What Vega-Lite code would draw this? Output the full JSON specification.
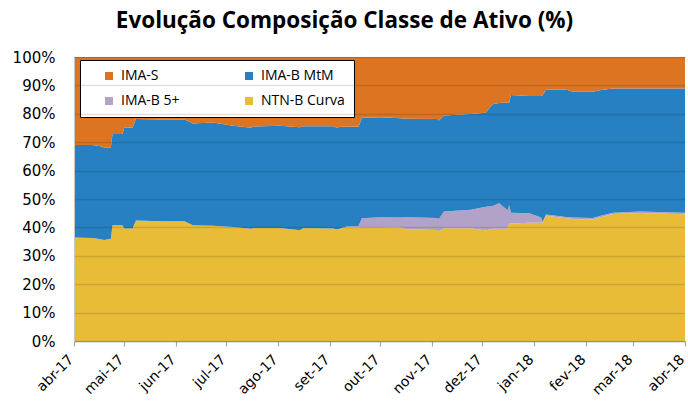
{
  "$schema": "https://vega.github.io/schema/vega-lite/v6.json",
  "width": 611,
  "height": 284,
  "autosize": "none",
  "padding": {"left": 74, "top": 57, "right": 3, "bottom": 60},
  "background": "white",
  "title": {"text": "Evolução Composição Classe de Ativo (%)", "font": "Open Sans", "fontSize": 22.5, "fontWeight": "bold", "color": "#000000", "anchor": "middle", "dx": -35, "offset": 18},
  "config": {"view": {"stroke": null}},
  "data": {"values": [
    {"data": "2017-04-01", "lim_ntnb": 36.4, "lim_ima5": 36.4, "lim_mtm": 69.0},
    {"data": "2017-04-12", "lim_ntnb": 36.3, "lim_ima5": 36.3, "lim_mtm": 69.0},
    {"data": "2017-04-17", "lim_ntnb": 35.8, "lim_ima5": 35.8, "lim_mtm": 68.6},
    {"data": "2017-04-19", "lim_ntnb": 35.6, "lim_ima5": 35.6, "lim_mtm": 68.1},
    {"data": "2017-04-23", "lim_ntnb": 36.0, "lim_ima5": 36.0, "lim_mtm": 68.1},
    {"data": "2017-04-24", "lim_ntnb": 40.8, "lim_ima5": 40.8, "lim_mtm": 72.9},
    {"data": "2017-04-30", "lim_ntnb": 40.8, "lim_ima5": 40.8, "lim_mtm": 72.9},
    {"data": "2017-05-01", "lim_ntnb": 39.6, "lim_ima5": 39.6, "lim_mtm": 75.2},
    {"data": "2017-05-06", "lim_ntnb": 39.6, "lim_ima5": 39.6, "lim_mtm": 75.2},
    {"data": "2017-05-08", "lim_ntnb": 42.4, "lim_ima5": 42.4, "lim_mtm": 78.2},
    {"data": "2017-05-23", "lim_ntnb": 42.2, "lim_ima5": 42.2, "lim_mtm": 78.0},
    {"data": "2017-06-06", "lim_ntnb": 42.2, "lim_ima5": 42.2, "lim_mtm": 78.0},
    {"data": "2017-06-11", "lim_ntnb": 40.8, "lim_ima5": 40.8, "lim_mtm": 76.6},
    {"data": "2017-06-23", "lim_ntnb": 40.6, "lim_ima5": 40.6, "lim_mtm": 76.9},
    {"data": "2017-07-05", "lim_ntnb": 40.1, "lim_ima5": 40.1, "lim_mtm": 75.8},
    {"data": "2017-07-16", "lim_ntnb": 39.5, "lim_ima5": 39.5, "lim_mtm": 75.1},
    {"data": "2017-07-17", "lim_ntnb": 39.8, "lim_ima5": 39.8, "lim_mtm": 75.5},
    {"data": "2017-08-02", "lim_ntnb": 39.8, "lim_ima5": 39.8, "lim_mtm": 75.8},
    {"data": "2017-08-14", "lim_ntnb": 39.0, "lim_ima5": 39.0, "lim_mtm": 75.3},
    {"data": "2017-08-16", "lim_ntnb": 39.8, "lim_ima5": 39.8, "lim_mtm": 75.6},
    {"data": "2017-09-03", "lim_ntnb": 39.6, "lim_ima5": 39.6, "lim_mtm": 75.6},
    {"data": "2017-09-05", "lim_ntnb": 39.3, "lim_ima5": 39.3, "lim_mtm": 75.1},
    {"data": "2017-09-07", "lim_ntnb": 39.6, "lim_ima5": 39.6, "lim_mtm": 75.4},
    {"data": "2017-09-11", "lim_ntnb": 40.0, "lim_ima5": 40.3, "lim_mtm": 75.4},
    {"data": "2017-09-18", "lim_ntnb": 40.0, "lim_ima5": 40.5, "lim_mtm": 75.4},
    {"data": "2017-09-20", "lim_ntnb": 40.1, "lim_ima5": 43.2, "lim_mtm": 78.6},
    {"data": "2017-10-01", "lim_ntnb": 40.1, "lim_ima5": 43.6, "lim_mtm": 78.8},
    {"data": "2017-10-13", "lim_ntnb": 40.0, "lim_ima5": 43.5, "lim_mtm": 78.4},
    {"data": "2017-10-17", "lim_ntnb": 39.3, "lim_ima5": 43.6, "lim_mtm": 78.3},
    {"data": "2017-11-04", "lim_ntnb": 39.1, "lim_ima5": 43.3, "lim_mtm": 78.2},
    {"data": "2017-11-05", "lim_ntnb": 38.6, "lim_ima5": 43.0, "lim_mtm": 77.6},
    {"data": "2017-11-08", "lim_ntnb": 39.7, "lim_ima5": 45.6, "lim_mtm": 79.4},
    {"data": "2017-11-24", "lim_ntnb": 39.7, "lim_ima5": 46.2, "lim_mtm": 79.9},
    {"data": "2017-12-03", "lim_ntnb": 38.9, "lim_ima5": 47.3, "lim_mtm": 80.4},
    {"data": "2017-12-07", "lim_ntnb": 39.5, "lim_ima5": 47.5, "lim_mtm": 83.4},
    {"data": "2017-12-11", "lim_ntnb": 39.5, "lim_ima5": 48.5, "lim_mtm": 83.8},
    {"data": "2017-12-16", "lim_ntnb": 39.5, "lim_ima5": 46.0, "lim_mtm": 84.0},
    {"data": "2017-12-17", "lim_ntnb": 41.4, "lim_ima5": 47.8, "lim_mtm": 84.0},
    {"data": "2017-12-18", "lim_ntnb": 41.4, "lim_ima5": 45.2, "lim_mtm": 86.6},
    {"data": "2017-12-29", "lim_ntnb": 41.6, "lim_ima5": 45.0, "lim_mtm": 86.3},
    {"data": "2018-01-05", "lim_ntnb": 41.6, "lim_ima5": 43.5, "lim_mtm": 86.3},
    {"data": "2018-01-06", "lim_ntnb": 41.8, "lim_ima5": 42.0, "lim_mtm": 86.5},
    {"data": "2018-01-08", "lim_ntnb": 44.1, "lim_ima5": 44.5, "lim_mtm": 88.6},
    {"data": "2018-01-20", "lim_ntnb": 43.2, "lim_ima5": 43.7, "lim_mtm": 88.6},
    {"data": "2018-01-24", "lim_ntnb": 43.0, "lim_ima5": 43.5, "lim_mtm": 87.8},
    {"data": "2018-02-05", "lim_ntnb": 42.8, "lim_ima5": 43.3, "lim_mtm": 87.8},
    {"data": "2018-02-09", "lim_ntnb": 43.5, "lim_ima5": 44.0, "lim_mtm": 88.3},
    {"data": "2018-02-17", "lim_ntnb": 44.7, "lim_ima5": 45.2, "lim_mtm": 88.9},
    {"data": "2018-03-05", "lim_ntnb": 45.1, "lim_ima5": 45.6, "lim_mtm": 88.9},
    {"data": "2018-04-01", "lim_ntnb": 44.6, "lim_ima5": 45.2, "lim_mtm": 88.9}
  ]},
  "encoding": {
    "x": {
      "field": "data",
      "type": "temporal",
      "scale": {"type": "utc", "domain": [{"year": 2017, "month": 4, "date": 1, "utc": true}, {"year": 2018, "month": 4, "date": 1, "utc": true}]},
      "axis": {
        "title": null,
        "grid": false,
        "tickCount": {"interval": "month", "step": 1},
        "labelExpr": "['jan','fev','mar','abr','mai','jun','jul','ago','set','out','nov','dez'][utcmonth(datum.value)] + '-' + utcFormat(datum.value, '%y')",
        "labelAngle": -45,
        "labelAlign": "right",
        "labelBaseline": "middle",
        "labelFont": "DejaVu Sans",
        "labelFontSize": 14,
        "labelColor": "#000000",
        "labelPadding": 11,
        "labelOffset": -3,
        "labelOverlap": false,
        "labelFlush": false,
        "labelBound": false,
        "domainColor": "#A6A6A6",
        "domainWidth": 1.5,
        "tickColor": "#A6A6A6",
        "tickSize": 5,
        "tickWidth": 1.2
      }
    }
  },
  "layer": [
    {
      "mark": {"type": "area", "interpolate": "linear"},
      "encoding": {
        "y": {"field": "lim_ntnb", "type": "quantitative", "stack": null, "scale": {"domain": [0, 100], "nice": false},
          "axis": {
            "title": null,
            "values": [0, 10, 20, 30, 40, 50, 60, 70, 80, 90, 100],
            "tickCount": 12,
            "labelExpr": "datum.value + '%'",
            "labelFont": "DejaVu Sans",
            "labelFontSize": 15,
            "labelColor": "#000000",
            "labelPadding": 19,
            "labelOverlap": false,
            "labelFlush": false,
            "tickSize": 0,
            "domainColor": "#C8C8C8",
            "domainWidth": 1,
            "grid": true,
            "gridColor": "#000000",
            "gridOpacity": 0.12,
            "gridWidth": 1.5,
            "zindex": 1
          }},
        "color": {
          "datum": "NTN-B Curva",
          "scale": {"domain": ["IMA-S", "IMA-B MtM", "IMA-B 5+", "NTN-B Curva"], "range": ["#DD7422", "#2780C1", "#B3A2C7", "#E9BC38"]},
          "legend": {
            "title": null,
            "orient": "none",
            "legendX": 6,
            "legendY": 3,
            "columns": 2,
            "direction": "horizontal",
            "gridAlign": "all",
            "symbolType": "square",
            "symbolSize": 64,
            "symbolOffset": 13,
            "symbolStrokeWidth": 0,
            "labelFont": "Open Sans",
            "labelFontSize": 14,
            "labelColor": "#000000",
            "labelOffset": 5,
            "columnPadding": 24,
            "rowPadding": 11,
            "padding": 9,
            "strokeColor": "#000000",
            "fillColor": "#FFFFFF"
          }
        }
      }
    },
    {
      "mark": {"type": "area", "interpolate": "linear"},
      "encoding": {
        "y": {"field": "lim_ima5", "type": "quantitative", "stack": null},
        "y2": {"field": "lim_ntnb"},
        "color": {"datum": "IMA-B 5+"}
      }
    },
    {
      "mark": {"type": "area", "interpolate": "linear"},
      "encoding": {
        "y": {"field": "lim_mtm", "type": "quantitative", "stack": null},
        "y2": {"field": "lim_ima5"},
        "color": {"datum": "IMA-B MtM"}
      }
    },
    {
      "mark": {"type": "area", "interpolate": "linear"},
      "encoding": {
        "y": {"field": "lim_mtm", "type": "quantitative", "stack": null},
        "y2": {"datum": 100},
        "color": {"datum": "IMA-S"}
      }
    }
  ]
}
